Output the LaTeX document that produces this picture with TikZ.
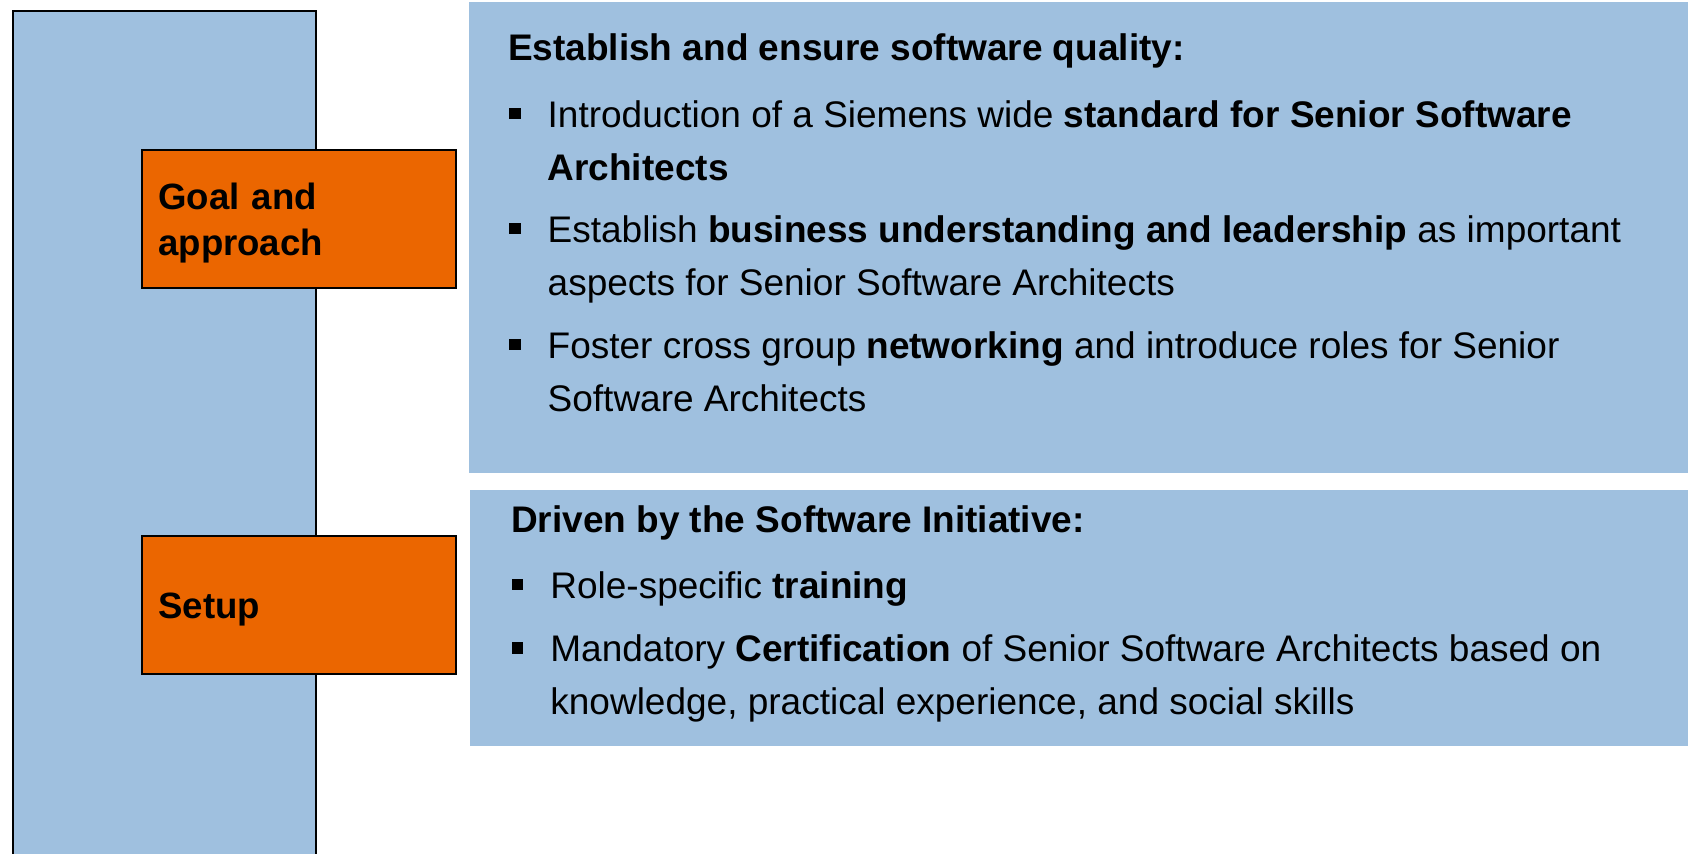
\documentclass[tikz,border=0pt]{standalone}
\usepackage{fontspec}
\setmainfont{Liberation Sans}
\usepackage{tikz}

\definecolor{panelblue}{RGB}{159,192,223}
\definecolor{stageorange}{RGB}{235,102,0}

% square bullet hanging left of the item text
\newcommand{\sqbullet}{\llap{\rule[3.9pt]{5.7pt}{5.8pt}\hspace{13.6pt}}}

\tikzset{
	stagebox/.style={draw=black, line width=1pt, fill=stageorange, anchor=north west,
		minimum width=157pt, minimum height=69pt, text width=140.7pt, inner xsep=8.15pt,
		text depth=0pt, align=left, font=\fontsize{18.3}{22.85}\selectfont\bfseries},
	heading/.style={anchor=base west, inner sep=0pt, font=\fontsize{18.5}{26.7}\selectfont\bfseries},
	item/.style={anchor=base west, inner sep=0pt, align=left, font=\fontsize{18.5}{26.7}\selectfont}
}

\begin{document}
\begin{tikzpicture}[x=0.5pt, y=-0.5pt]
	\useasboundingbox (0,0) rectangle (1688,854);
	
	% Background column and panels
	\draw[line width=0.8pt, fill=panelblue] (13,11) rectangle (316,880);
	\fill[panelblue] (469,2) rectangle (1700,472.7);
	\fill[panelblue] (470,490) rectangle (1700,746);
	
	% Stages
	\node[stagebox, text depth=22.85pt] (goal) at (141,149) {Goal and\\approach};
	\node[stagebox] (setup) at (141,535.3) {Setup};
	
	% Goal and approach (two-line items sit on their last baseline)
	\node[heading] (qualityhead) at (507.7,60.7) {Establish and ensure software quality:};
	\node[item] (standard) at (547.3,180.7) {\sqbullet Introduction of a Siemens wide \textbf{standard for Senior Software}\\\textbf{Architects}};
	\node[item] (business) at (547.3,295.7) {\sqbullet Establish \textbf{business understanding and leadership} as important\\aspects for Senior Software Architects};
	\node[item] (networking) at (547.3,411.7) {\sqbullet Foster cross group \textbf{networking} and introduce roles for Senior\\Software Architects};
	
	% Setup
	\node[heading] (initiativehead) at (510.7,532.7) {Driven by the Software Initiative:};
	\node[item] (training) at (550,598.3) {\sqbullet Role-specific \textbf{training}};
	\node[item] (certification) at (550,715) {\sqbullet Mandatory \textbf{Certification} of Senior Software Architects based on\\knowledge, practical experience, and social skills};
\end{tikzpicture}
\end{document}
